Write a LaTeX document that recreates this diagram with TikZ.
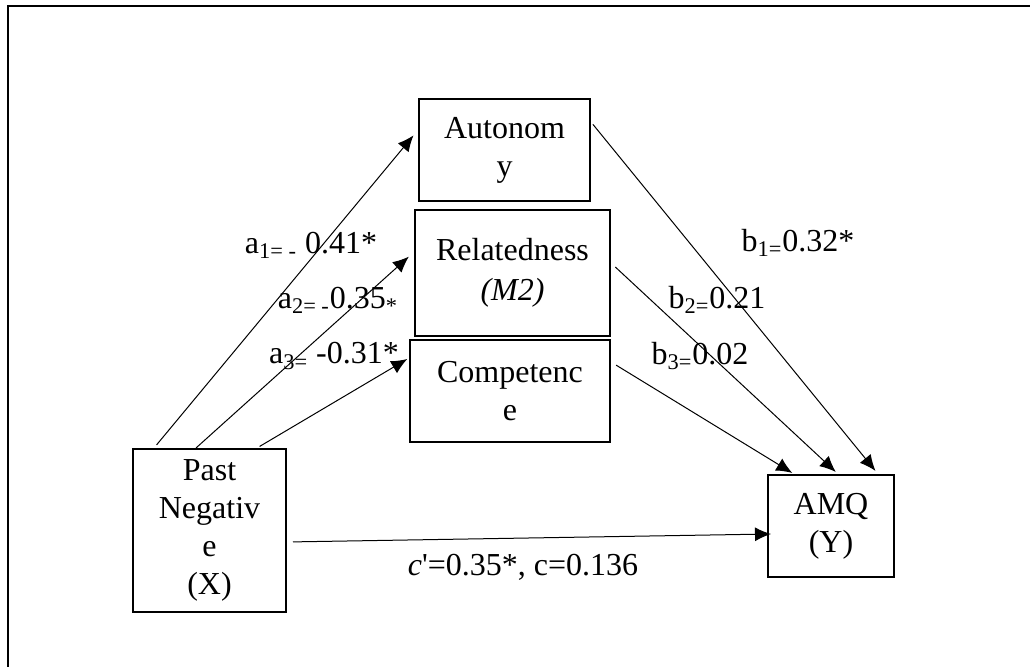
\documentclass[tikz,border=0pt]{standalone}
\usepackage{fontspec}
\setmainfont{Liberation Serif}
\usetikzlibrary{arrows.meta}
\tikzset{
  box/.style={draw, line width=1pt, align=center, inner sep=0pt},
  path/.style={line width=0.5pt, -{Latex[length=8pt,width=7pt]}},
  every node/.style={font=\fontsize{16}{19}\selectfont}
}
\begin{document}
\begin{tikzpicture}[x=0.5pt,y=-0.5pt]
\useasboundingbox (0,0) rectangle (1030,667);

% frame (only top and left edges show)
\draw[line width=1pt] (8,667) -- (8,6) -- (1030,6);

% variables
\node[box, minimum width=85.5pt, minimum height=51pt] (auto) at (504.5,150) {Autonom\\y};
\node[box, minimum width=97.5pt, minimum height=63pt] (relat) at (512.5,273) {Relatedness\\[1pt]\textit{(M2)}};
\node[box, minimum width=100pt, minimum height=51pt] (comp) at (510,391) {Competenc\\e};
\node[box, minimum width=76.5pt, minimum height=81.5pt] (pn) at (209.5,530.5) {Past\\Negativ\\e\\(X)};
\node[box, minimum width=63pt, minimum height=51pt] (amq) at (831,526) {AMQ\\(Y)};

% a paths
\draw[path, shorten <=2pt, shorten >=3.5pt] ([xshift=11pt]pn.north west) -- ([yshift=10pt]auto.west);
\draw[path, shorten >=3.5pt] ([xshift=32pt]pn.north west) -- ([yshift=10.5pt]relat.west);
\draw[path, shorten <=1.5pt, shorten >=1pt] ([xshift=62.5pt]pn.north west) -- ([yshift=16.5pt]comp.west);

% b paths
\draw[path, shorten <=1.5pt, shorten >=2pt] ([yshift=14pt]auto.east) -- ([xshift=-8.5pt]amq.north east);
\draw[path, shorten <=3pt, shorten >=1.5pt] ([yshift=5pt]relat.east) -- ([xshift=-28.5pt]amq.north east);
\draw[path, shorten <=3pt, shorten >=1pt] ([yshift=14.5pt]comp.east) -- ([xshift=13.5pt]amq.north west);

% direct path
\draw[path, shorten <=3pt] ([yshift=-5.75pt]pn.east) -- ([xshift=2pt,yshift=-4pt]amq.west);

% coefficients
\node (la1) at (311,245) {a\textsubscript{1= -} 0.41*};
\node (la2) at (338,300) {a\textsubscript{2= -}0.35\textsubscript{*}};
\node (la3) at (334,356) {a\textsubscript{3=} -0.31*};
\node (lb1) at (798,243) {b\textsubscript{1=}0.32*};
\node (lb2) at (717,300) {b\textsubscript{2=}0.21};
\node (lb3) at (700,356) {b\textsubscript{3=}0.02};
\node (lc) at (523,567) {\textit{c}\textquotesingle=0.35*, c=0.136};
\end{tikzpicture}
\end{document}
